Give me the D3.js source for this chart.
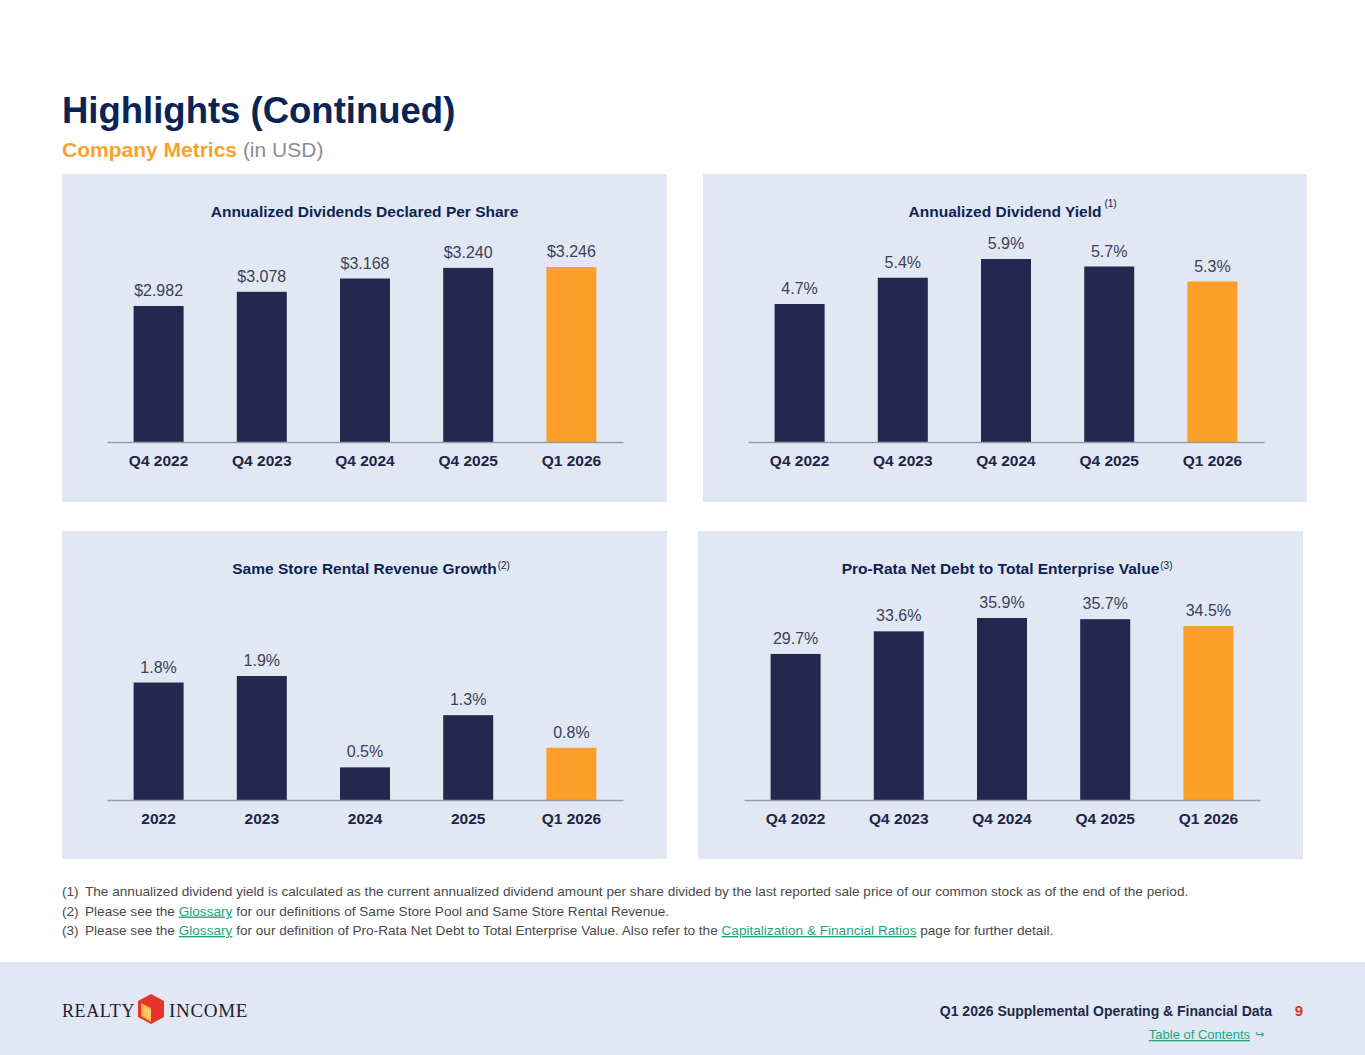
<!DOCTYPE html>
<html><head><meta charset="utf-8">
<script src="https://cdn.jsdelivr.net/npm/d3@7"></script>
<style>
html,body{margin:0;padding:0;background:#fff;}
svg{display:block;}
</style></head>
<body>
<svg id="c" width="1365" height="1055"></svg>
<script>
// ---- data ----
const quarterCats = ["Q4 2022", "Q4 2023", "Q4 2024", "Q4 2025", "Q1 2026"];
const yearCats = ["2022", "2023", "2024", "2025", "Q1 2026"];
const dividendValues = [2.982, 3.078, 3.168, 3.240, 3.246];
const dividendLabels = ["$2.982", "$3.078", "$3.168", "$3.240", "$3.246"];
const yieldValues = [4.7, 5.4, 5.9, 5.7, 5.3];
const sameStoreValues = [1.8, 1.9, 0.5, 1.3, 0.8];
const netDebtValues = [29.7, 33.6, 35.9, 35.7, 34.5];
const chartTitles = ["Annualized Dividends Declared Per Share", "Annualized Dividend Yield",
  "Same Store Rental Revenue Growth", "Pro-Rata Net Debt to Total Enterprise Value"];
const chartNotes = ["", "(1)", "(2)", "(3)"];
const footnotes = [
  ["(1)", [["The annualized dividend yield is calculated as the current annualized dividend amount per share divided by the last reported sale price of our common stock as of the end of the period.", false]]],
  ["(2)", [["Please see the ", false], ["Glossary", true], [" for our definitions of Same Store Pool and Same Store Rental Revenue.", false]]],
  ["(3)", [["Please see the ", false], ["Glossary", true], [" for our definition of Pro-Rata Net Debt to Total Enterprise Value. Also refer to the ", false], ["Capitalization & Financial Ratios", true], [" page for further detail.", false]]]
];

// ---- styles ----
const NAVY = "#26274f", ORANGE = "#fd9f28", PANEL = "#e1e8f4", TITLE = "#0c2454";
const FONT = "'Liberation Sans', Arial, sans-serif";
const svg = d3.select("#c");

svg.append("rect").attr("x",0).attr("y",0).attr("width",1365).attr("height",1055).attr("fill","#fff");

// Page title
svg.append("text").attr("x",62).attr("y",123).attr("font-family",FONT).attr("font-weight","bold")
  .attr("font-size",36.5).attr("fill",TITLE).text("Highlights (Continued)");
const sub = svg.append("text").attr("x",62).attr("y",157).attr("font-family",FONT).attr("font-size",21);
sub.append("tspan").attr("font-weight","bold").attr("fill","#f9a12e").text("Company Metrics");
sub.append("tspan").attr("fill","#8a8d96").text(" (in USD)");

// chart panels
const panels = [
  {x:62, y:174, w:605, h:328, axisY:442, x0:107, x1:623, cats:quarterCats, vals:dividendValues, labels:dividendLabels, dom:[2.061, 3.246], top:267},
  {x:703, y:174, w:604, h:328, axisY:442, x0:748, x1:1264, cats:quarterCats, vals:yieldValues, labels:yieldValues.map(v=>v.toFixed(1)+"%"), dom:[1.02, 5.9], top:259},
  {x:62, y:531, w:605, h:328, axisY:800, x0:107, x1:623, cats:yearCats, vals:sameStoreValues, labels:sameStoreValues.map(v=>v.toFixed(1)+"%"), dom:[0, 1.9], top:676},
  {x:698, y:531, w:605, h:328, axisY:800, x0:744, x1:1260, cats:quarterCats, vals:netDebtValues, labels:netDebtValues.map(v=>v.toFixed(1)+"%"), dom:[4.5, 35.9], top:618}
];

panels.forEach((p, i) => {
  const g = svg.append("g");
  g.append("rect").attr("x",p.x).attr("y",p.y).attr("width",p.w).attr("height",p.h).attr("fill",PANEL);
  // title
  const cx = p.x + p.w/2;
  const t = g.append("text").attr("x",cx).attr("y",p.y+43).attr("text-anchor","middle")
    .attr("font-family",FONT).attr("font-weight","bold").attr("font-size",15.5).attr("fill",TITLE).text(chartTitles[i]);
  const tw = t.node().getComputedTextLength();
  g.append("text").attr("x",cx + tw/2 + (i===1?3:1)).attr("y",p.y+(i===1?33:38)).attr("font-family",FONT)
    .attr("font-size",10).attr("fill",TITLE).text(chartNotes[i]);

  const x = d3.scaleBand().domain(p.cats).range([p.x0, p.x1]).paddingInner(0.5155).paddingOuter(0.2578);
  const y = d3.scaleLinear().domain(p.dom).range([p.axisY, p.top]);

  g.selectAll("rect.bar").data(p.vals).join("rect").attr("class","bar")
    .attr("x",(d,j)=>x(p.cats[j])).attr("width",x.bandwidth())
    .attr("y",d=>y(d)).attr("height",d=>p.axisY - y(d))
    .attr("fill",(d,j)=> j===p.vals.length-1 ? ORANGE : NAVY);

  g.selectAll("text.val").data(p.vals).join("text").attr("class","val")
    .attr("x",(d,j)=>x(p.cats[j]) + x.bandwidth()/2).attr("y",d=>y(d)-10)
    .attr("text-anchor","middle").attr("font-family",FONT).attr("font-size",16).attr("fill","#3b3f58")
    .text((d,j)=>p.labels[j]);

  const axis = d3.axisBottom(x).tickSize(0).tickPadding(13);
  const ag = g.append("g").attr("transform",`translate(0,${p.axisY})`).call(axis);
  ag.select(".domain").attr("stroke","#9a9ca6").attr("stroke-width",1.5);
  ag.selectAll("text").attr("font-family",FONT).attr("font-weight","bold").attr("font-size",15.5).attr("fill","#1f2547");
});

// footnotes
footnotes.forEach((f, i) => {
  const yy = 896 + i*19.5;
  svg.append("text").attr("x",62).attr("y",yy).attr("font-family",FONT).attr("font-size",13.6).attr("fill","#4a4a4a").text(f[0]);
  const t = svg.append("text").attr("x",85).attr("y",yy).attr("font-family",FONT).attr("font-size",13.6).attr("fill","#4a4a4a");
  f[1].forEach(s => {
    const ts = t.append("tspan").text(s[0]);
    if (s[1]) ts.attr("fill","#1ea57b").attr("text-decoration","underline");
  });
});

// footer
svg.append("rect").attr("x",0).attr("y",962).attr("width",1365).attr("height",93).attr("fill","#e1e8f4");
const SERIF = "'Liberation Serif', 'DejaVu Serif', serif";
svg.append("text").attr("x",62).attr("y",1017).attr("font-family",SERIF).attr("font-size",18).attr("letter-spacing",0.6)
  .attr("fill","#1d1d2b").attr("textLength",73).attr("lengthAdjust","spacingAndGlyphs").text("REALTY");
svg.append("text").attr("x",169).attr("y",1017).attr("font-family",SERIF).attr("font-size",18).attr("letter-spacing",0.6)
  .attr("fill","#1d1d2b").attr("textLength",79).attr("lengthAdjust","spacingAndGlyphs").text("INCOME");
// logo hexagon
const hex = [[151,994],[164,1001],[164,1017],[151,1024],[138,1017],[138,1001]];
svg.append("polygon").attr("points",hex.map(d=>d.join(",")).join(" ")).attr("fill","#e5352b");
svg.append("polygon").attr("points","141,1003 151,1008 151,1022 141,1016").attr("fill","#fbb03b");
svg.append("polygon").attr("points","143,1006 151,1010 151,1021 143,1015").attr("fill","#ffd37a").attr("opacity",0.7);

svg.append("text").attr("x",1272).attr("y",1016).attr("text-anchor","end").attr("font-family",FONT).attr("font-weight","bold")
  .attr("font-size",14).attr("fill","#1e2a4a").text("Q1 2026 Supplemental Operating & Financial Data");
svg.append("text").attr("x",1303).attr("y",1016).attr("text-anchor","end").attr("font-family",FONT).attr("font-weight","bold")
  .attr("font-size",15).attr("fill","#e2321f").text("9");
svg.append("text").attr("x",1250).attr("y",1039).attr("text-anchor","end").attr("font-family",FONT)
  .attr("font-size",13).attr("fill","#1ea57b").attr("text-decoration","underline").text("Table of Contents");
svg.append("text").attr("x",1255).attr("y",1038).attr("font-family","'DejaVu Sans', sans-serif")
  .attr("font-size",11).attr("fill","#1ea57b").text("↪");
</script>
</body></html>
